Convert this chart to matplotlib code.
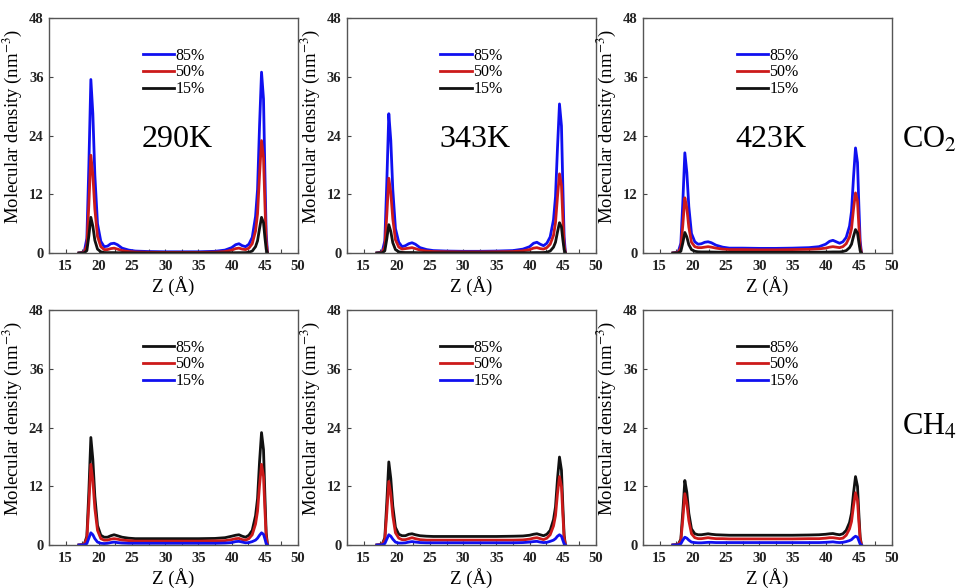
import matplotlib
matplotlib.use("Agg")
import matplotlib.pyplot as plt
from matplotlib.ticker import MultipleLocator

plt.rcParams["font.family"] = ["Liberation Serif", "DejaVu Serif"]
plt.rcParams["mathtext.fontset"] = "stix"

# Z positions (Angstrom) shared by all density profiles
z = [17.0, 17.8, 18.2, 18.5, 18.8, 19.1, 19.4, 19.8, 20.3, 20.8, 21.3, 21.8, 22.3,
     22.8, 23.5, 24.5, 25.5, 27.5, 30.0, 32.5, 35.0, 37.5, 39.0, 40.0, 40.6, 41.1,
     41.6, 42.1, 42.6, 43.1, 43.6, 43.9, 44.2, 44.5, 44.8, 45.0, 45.2, 45.4]

temps = ["290K", "343K", "423K"]
levels = ["85%", "50%", "15%"]

# CO2 profiles, 85% / 50% / 15%
co2_290_85 = [0, 0.2, 3.0, 18.0, 35.5, 28.5, 16.0, 6.0, 2.4, 1.3, 1.4, 1.9, 2.0, 1.7, 1.0, 0.6, 0.4, 0.3, 0.25, 0.25, 0.25, 0.35, 0.6, 1.1, 1.7, 1.9, 1.5, 1.3, 1.8, 3.2, 7.5, 13.0, 26.0, 37.0, 31.5, 17.0, 4.0, 0]
co2_290_50 = [0, 0.1, 1.6, 10.0, 20.0, 16.0, 9.0, 3.4, 1.3, 0.7, 0.7, 0.9, 1.0, 0.8, 0.5, 0.3, 0.2, 0.15, 0.12, 0.12, 0.12, 0.18, 0.3, 0.6, 0.9, 1.0, 0.8, 0.7, 1.0, 1.9, 4.5, 8.0, 16.0, 23.0, 19.5, 10.5, 2.4, 0]
co2_290_15 = [0, 0.02, 0.5, 3.5, 7.3, 5.5, 2.6, 0.8, 0.25, 0.1, 0.08, 0.08, 0.08, 0.06, 0.05, 0.03, 0.02, 0.02, 0.02, 0.02, 0.02, 0.02, 0.03, 0.05, 0.06, 0.07, 0.07, 0.08, 0.15, 0.4, 1.3, 2.5, 5.0, 7.3, 6.2, 3.3, 0.8, 0]

co2_343_85 = [0, 0.2, 2.5, 14.5, 28.5, 23.0, 13.0, 5.0, 2.2, 1.3, 1.5, 1.9, 2.1, 1.8, 1.1, 0.7, 0.5, 0.4, 0.35, 0.35, 0.4, 0.5, 0.8, 1.3, 2.0, 2.2, 1.8, 1.5, 2.0, 3.3, 6.8, 11.5, 21.5, 30.5, 26.0, 14.0, 3.3, 0]
co2_343_50 = [0, 0.1, 1.3, 7.8, 15.3, 12.3, 7.0, 2.7, 1.2, 0.8, 0.9, 1.0, 1.1, 0.9, 0.6, 0.4, 0.3, 0.25, 0.22, 0.22, 0.25, 0.3, 0.45, 0.7, 1.0, 1.1, 0.9, 0.8, 1.1, 1.8, 3.6, 6.2, 11.5, 16.2, 13.8, 7.4, 1.7, 0]
co2_343_15 = [0, 0.02, 0.45, 2.9, 5.8, 4.4, 2.1, 0.7, 0.25, 0.12, 0.1, 0.1, 0.1, 0.08, 0.06, 0.05, 0.04, 0.04, 0.04, 0.04, 0.04, 0.04, 0.05, 0.07, 0.08, 0.09, 0.09, 0.1, 0.17, 0.4, 1.2, 2.2, 4.3, 6.2, 5.3, 2.8, 0.7, 0]

co2_423_85 = [0, 0.2, 2.0, 10.5, 20.5, 16.5, 9.5, 4.0, 2.3, 1.8, 1.9, 2.2, 2.3, 2.1, 1.6, 1.2, 1.0, 1.0, 0.95, 0.95, 1.0, 1.1, 1.3, 1.8, 2.4, 2.6, 2.3, 2.0, 2.3, 3.2, 5.5, 8.5, 15.5, 21.5, 18.5, 10.0, 2.5, 0]
co2_423_50 = [0, 0.1, 1.1, 5.8, 11.3, 9.2, 5.3, 2.2, 1.3, 1.1, 1.1, 1.2, 1.3, 1.2, 1.0, 0.8, 0.7, 0.7, 0.65, 0.65, 0.7, 0.75, 0.85, 1.0, 1.2, 1.3, 1.2, 1.1, 1.3, 1.9, 3.3, 5.0, 9.0, 12.3, 10.6, 5.7, 1.4, 0]
co2_423_15 = [0, 0.02, 0.35, 2.1, 4.2, 3.3, 1.7, 0.7, 0.35, 0.25, 0.22, 0.22, 0.22, 0.2, 0.18, 0.16, 0.15, 0.15, 0.15, 0.15, 0.15, 0.15, 0.16, 0.18, 0.2, 0.22, 0.22, 0.22, 0.3, 0.5, 1.1, 1.8, 3.4, 4.8, 4.1, 2.2, 0.5, 0]

# CH4 profiles, 85% / 50% / 15%
ch4_290_85 = [0, 0.1, 1.8, 11.0, 22.0, 17.5, 10.0, 4.0, 2.0, 1.6, 1.6, 1.9, 2.1, 1.9, 1.6, 1.4, 1.3, 1.3, 1.3, 1.3, 1.3, 1.35, 1.5, 1.8, 2.0, 2.1, 1.8, 1.6, 2.0, 3.0, 6.0, 9.5, 17.0, 23.0, 19.5, 10.5, 2.5, 0]
ch4_290_50 = [0, 0.1, 1.4, 8.3, 16.5, 13.2, 7.5, 3.0, 1.3, 1.0, 1.0, 1.2, 1.3, 1.2, 1.0, 0.9, 0.8, 0.8, 0.8, 0.8, 0.8, 0.85, 0.9, 1.1, 1.3, 1.35, 1.1, 1.0, 1.3, 2.1, 4.3, 6.9, 12.2, 16.5, 14.0, 7.5, 1.8, 0]
ch4_290_15 = [0, 0.02, 0.3, 1.4, 2.5, 2.1, 1.3, 0.6, 0.35, 0.3, 0.35, 0.5, 0.6, 0.5, 0.4, 0.35, 0.35, 0.35, 0.35, 0.35, 0.35, 0.35, 0.4, 0.5, 0.7, 0.75, 0.6, 0.45, 0.5, 0.7, 1.0, 1.4, 2.0, 2.5, 2.2, 1.3, 0.3, 0]

ch4_343_85 = [0, 0.1, 1.5, 8.8, 17.0, 13.6, 8.0, 3.6, 2.2, 1.9, 1.9, 2.2, 2.3, 2.1, 1.9, 1.8, 1.75, 1.75, 1.75, 1.75, 1.75, 1.8, 1.85, 2.0, 2.2, 2.3, 2.1, 1.9, 2.2, 3.0, 5.2, 7.8, 13.5, 18.0, 15.3, 8.3, 2.0, 0]
ch4_343_50 = [0, 0.1, 1.1, 6.6, 13.0, 10.4, 6.0, 2.5, 1.4, 1.1, 1.1, 1.3, 1.5, 1.3, 1.1, 1.0, 1.0, 1.0, 1.0, 1.0, 1.0, 1.0, 1.05, 1.2, 1.4, 1.5, 1.3, 1.1, 1.4, 2.1, 3.9, 6.0, 10.5, 14.0, 11.9, 6.4, 1.5, 0]
ch4_343_15 = [0, 0.02, 0.3, 1.2, 2.1, 1.8, 1.2, 0.6, 0.4, 0.4, 0.45, 0.6, 0.7, 0.6, 0.5, 0.45, 0.45, 0.45, 0.45, 0.45, 0.45, 0.45, 0.5, 0.6, 0.7, 0.75, 0.6, 0.5, 0.55, 0.75, 1.0, 1.3, 1.8, 2.1, 1.8, 1.0, 0.25, 0]

ch4_423_85 = [0, 0.1, 1.2, 6.9, 13.2, 10.8, 6.5, 3.3, 2.3, 2.1, 2.1, 2.2, 2.3, 2.2, 2.1, 2.05, 2.0, 2.0, 2.0, 2.0, 2.0, 2.05, 2.1, 2.2, 2.3, 2.35, 2.2, 2.1, 2.3, 3.0, 4.6, 6.5, 10.6, 14.0, 12.0, 6.5, 1.6, 0]
ch4_423_50 = [0, 0.08, 0.9, 5.4, 10.5, 8.5, 5.0, 2.3, 1.5, 1.3, 1.3, 1.4, 1.5, 1.4, 1.3, 1.3, 1.25, 1.25, 1.25, 1.25, 1.25, 1.3, 1.3, 1.4, 1.5, 1.5, 1.4, 1.3, 1.4, 2.0, 3.3, 4.8, 8.0, 10.7, 9.1, 4.9, 1.2, 0]
ch4_423_15 = [0, 0.02, 0.25, 1.0, 1.6, 1.4, 1.0, 0.6, 0.5, 0.45, 0.45, 0.5, 0.55, 0.55, 0.5, 0.5, 0.5, 0.5, 0.5, 0.5, 0.5, 0.5, 0.5, 0.55, 0.6, 0.65, 0.55, 0.5, 0.55, 0.7, 0.9, 1.1, 1.5, 1.8, 1.6, 0.9, 0.2, 0]

co2 = [[co2_290_85, co2_290_50, co2_290_15],
       [co2_343_85, co2_343_50, co2_343_15],
       [co2_423_85, co2_423_50, co2_423_15]]
ch4 = [[ch4_290_85, ch4_290_50, ch4_290_15],
       [ch4_343_85, ch4_343_50, ch4_343_15],
       [ch4_423_85, ch4_423_50, ch4_423_15]]

blue, red, black = "#1010f0", "#cc1a1a", "#111111"
co2_colors = [blue, red, black]
ch4_colors = [black, red, blue]

fig = plt.figure(figsize=(9.63, 5.88), dpi=100)
lefts = [0.0509, 0.3603, 0.6677]
bottoms = [0.5697, 0.0731]
w, h = 0.2586, 0.399


def style_axes(ax):
    ax.set_xlim(12.5, 50)
    ax.set_ylim(0, 48)
    ax.xaxis.set_major_locator(MultipleLocator(5))
    ax.xaxis.set_minor_locator(MultipleLocator(2.5))
    ax.yaxis.set_major_locator(MultipleLocator(12))
    ax.tick_params(which="both", direction="in", length=3, width=0.8,
                   color="#444444", labelsize=10.5, pad=4)
    ax.tick_params(axis="x", pad=5)
    for lbl in ax.get_xticklabels() + ax.get_yticklabels():
        lbl.set_fontweight("bold")
        lbl.set_color("#222222")
    for s in ax.spines.values():
        s.set_color("#555555")
        s.set_linewidth(1.0)
    ax.set_xlabel("Z (Å)", fontsize=13.5, labelpad=2)
    ax.set_ylabel("Molecular density (nm$^{-3}$)", fontsize=13.5)
    ax.yaxis.set_label_coords(-0.1, 0.54)


for row, (data, colors) in enumerate([(co2, co2_colors), (ch4, ch4_colors)]):
    for col in range(3):
        ax = fig.add_axes([lefts[col], bottoms[row], w, h])
        for series, lab, c in zip(data[col], levels, colors):
            ax.plot(z, series, color=c, lw=2.0, label=lab)
        style_axes(ax)
        ax.legend(loc="center", bbox_to_anchor=(0.5, 0.77), frameon=False,
                  fontsize=11.5, handlelength=2.0, handletextpad=0.05,
                  labelspacing=0.05, borderpad=0.2)
        if row == 0:
            ax.text(0.514, 0.483, temps[col], transform=ax.transAxes,
                    fontsize=23, ha="center", va="center")

fig.text(0.965, 0.762, "CO$_2$", fontsize=22, ha="center", va="center")
fig.text(0.965, 0.274, "CH$_4$", fontsize=22, ha="center", va="center")

fig.savefig("out.png", dpi=100)
